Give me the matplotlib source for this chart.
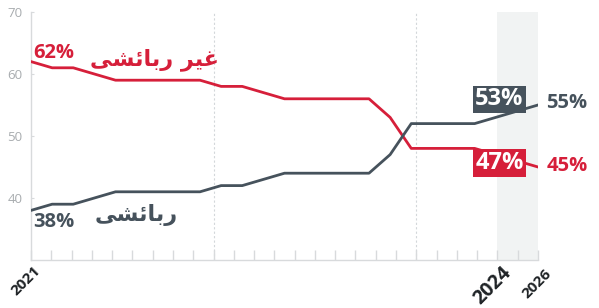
import matplotlib
matplotlib.use("Agg")
import matplotlib.pyplot as plt
import numpy as np

# ---- data ----
non_ruling = [62, 61, 61, 60, 59, 59, 59, 59, 59, 58, 58, 57, 56, 56, 56, 56, 56, 53, 48, 48, 48, 48, 47, 46, 45]
ruling = [38, 39, 39, 40, 41, 41, 41, 41, 41, 42, 42, 43, 44, 44, 44, 44, 44, 47, 52, 52, 52, 52, 53, 54, 55]
n_ticks = 26
tick_labels = {0: "2021", 23: "2024", 25: "2026"}
yticks = [40, 50, 60, 70]

RED = "#d61f3a"
GREY = "#46525c"
FONT = "Open Sans"

# Arabic labels in visual order with presentation forms (matplotlib has no shaping)
lbl_non_ruling = "\uFBFD\uFEB8\uFE8B\uFE8E\uFE91\uFEAD \uFEAE\uFEF4\uFECF"  # غير ربائشی
lbl_ruling = "\uFBFD\uFEB8\uFE8B\uFE8E\uFE91\uFEAD"  # ربائشی

W, H = 599, 308
fig = plt.figure(figsize=(W / 100, H / 100), dpi=100)
ax = fig.add_axes([31 / W, (H - 260) / H, (538 - 31) / W, (260 - 12) / H])

n = len(non_ruling)
x = np.arange(n) * (n_ticks - 1) / (n - 1)

# shaded projection band & dotted separators
ax.axvspan(23, 25, color="#f1f3f3", zorder=0, lw=0)
for xv in (9, 19):
    ax.axvline(xv, color="#d3d7da", lw=0.8, ls=(0, (2, 2)), zorder=1)

ax.plot(x, non_ruling, color=RED, lw=2.0, zorder=3, solid_joinstyle="round")
ax.plot(x, ruling, color=GREY, lw=2.0, zorder=3, solid_joinstyle="round")

ax.set_xlim(0, n_ticks - 1)
ax.set_ylim(30, 70)

for s in ("top", "right"):
    ax.spines[s].set_visible(False)
for s in ("left", "bottom"):
    ax.spines[s].set_color("#d8dadc")
    ax.spines[s].set_linewidth(1.0)

ax.set_yticks(yticks)
ax.set_yticklabels([str(v) for v in yticks], fontsize=9.5, color="#a8acaf", family=FONT)
ax.tick_params(axis="y", direction="in", length=2.5, color="#d8dadc", pad=6)

ax.set_xticks(range(n_ticks))
ax.set_xticklabels([""] * n_ticks)
ax.tick_params(axis="x", direction="in", length=7, color="#d8dadc", width=1)

label_style = {0: (0.1, 29.4, 11), 23: (0.2, 29.6, 14), 25: (0.3, 28.9, 11)}
for k, lab in tick_labels.items():
    dx, yy, fs = label_style[k]
    ax.text(k + dx, yy, lab, rotation=45, rotation_mode="anchor",
            ha="right", va="top", fontsize=fs,
            fontweight="bold", color="#1f2326", family=FONT, clip_on=False)

# labels
ax.text(0.12, 63.4, "62%", color=RED, fontsize=14.5, fontweight="bold", family=FONT,
        ha="left", va="center")
ax.text(0.12, 36.1, "38%", color=GREY, fontsize=14.5, fontweight="bold", family=FONT,
        ha="left", va="center")
ax.text(6.1, 62.3, lbl_non_ruling, color=RED, fontsize=16, fontweight="bold",
        family=["DejaVu Sans"], ha="center", va="center")
ax.text(5.2, 37.3, lbl_ruling, color=GREY, fontsize=16, fontweight="bold",
        family=["DejaVu Sans"], ha="center", va="center")

ax.text(23.1, 55.9, "53%", color="white", fontsize=17, fontweight="bold", family=FONT,
        ha="center", va="center", zorder=5,
        bbox=dict(boxstyle="square,pad=0.08", fc=GREY, ec="none"))
ax.text(23.1, 45.6, "47%", color="white", fontsize=17, fontweight="bold", family=FONT,
        ha="center", va="center", zorder=5,
        bbox=dict(boxstyle="square,pad=0.08", fc=RED, ec="none"))
ax.text(25.42, 55.3, "55%", color=GREY, fontsize=14.5, fontweight="bold", family=FONT,
        ha="left", va="center", clip_on=False)
ax.text(25.42, 45.2, "45%", color=RED, fontsize=14.5, fontweight="bold", family=FONT,
        ha="left", va="center", clip_on=False)

fig.savefig("out.png", dpi=100)
